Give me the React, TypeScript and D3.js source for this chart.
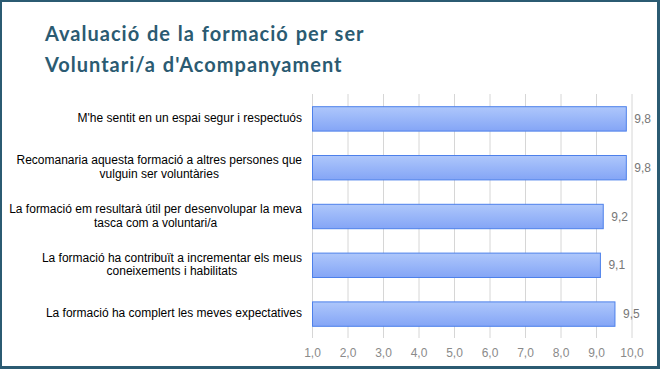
import React, { useEffect, useRef } from 'react';
import * as d3 from 'd3';

const titleLines = ['Avaluació de la formació per ser', "Voluntari/a d'Acompanyament"];

const categories = [
  ["M'he sentit en un espai segur i respectuós"],
  ['Recomanaria aquesta formació a altres persones que', 'vulguin ser voluntàries'],
  ['La formació em resultarà útil per desenvolupar la meva', 'tasca com a voluntari/a'],
  ['La formació ha contribuït a incrementar els meus', 'coneixements i habilitats'],
  ['La formació ha complert les meves expectatives'],
];

const values = [9.84, 9.84, 9.19, 9.11, 9.52];

const ticks = [1, 2, 3, 4, 5, 6, 7, 8, 9, 10];

const W = 660;
const H = 369;

const App = () => {
  const ref = useRef<SVGSVGElement>(null);

  useEffect(() => {
    document.body.style.margin = '0';
    const svg = d3.select(ref.current);
    svg.selectAll('*').remove();

    const margin = { left: 312.5, right: 28, top: 94, bottom: 31 };
    const fmt = (v: number) => d3.format('.1f')(v).replace('.', ',');

    const x = d3.scaleLinear().domain([1, 10]).range([margin.left, W - margin.right]);
    const y = d3.scaleBand<number>()
      .domain(d3.range(categories.length))
      .range([margin.top, H - margin.bottom])
      .paddingInner(0.5)
      .paddingOuter(0.25);

    svg.append('rect')
      .attr('x', 0).attr('y', 0).attr('width', W).attr('height', H)
      .attr('fill', '#2b5b72');
    svg.append('rect')
      .attr('x', 2).attr('y', 2).attr('width', W - 5).attr('height', H - 5)
      .attr('fill', '#fff');

    const grad = svg.append('defs').append('linearGradient')
      .attr('id', 'barGrad').attr('x1', 0).attr('y1', 0).attr('x2', 0).attr('y2', 1);
    grad.append('stop').attr('offset', '0%').attr('stop-color', '#aec7fb');
    grad.append('stop').attr('offset', '100%').attr('stop-color', '#84a5f6');

    // title
    svg.append('g')
      .selectAll('text')
      .data(titleLines)
      .enter()
      .append('text')
      .attr('x', 45)
      .attr('y', (d, i) => 41 + i * 31)
      .attr('font-family', 'Lato, sans-serif')
      .attr('font-weight', 'bold')
      .attr('font-size', 20)
      .attr('letter-spacing', 1)
      .attr('word-spacing', 1)
      .attr('fill', '#2b5b72')
      .text(d => d);

    // grid
    svg.append('g')
      .selectAll('line')
      .data(ticks)
      .enter()
      .append('line')
      .attr('x1', d => x(d)).attr('x2', d => x(d))
      .attr('y1', margin.top).attr('y2', H - margin.bottom)
      .attr('stroke', '#d6d6d6')
      .attr('stroke-width', 1);

    // tick labels
    svg.append('g')
      .selectAll('text')
      .data(ticks)
      .enter()
      .append('text')
      .attr('x', d => x(d))
      .attr('y', 357)
      .attr('text-anchor', 'middle')
      .attr('font-family', 'Arial, Liberation Sans, sans-serif')
      .attr('font-size', 12)
      .attr('fill', '#8a8a8a')
      .text(d => fmt(d));

    // bars
    svg.append('g')
      .selectAll('rect')
      .data(values)
      .enter()
      .append('rect')
      .attr('x', x(1))
      .attr('y', (d, i) => (y(i) as number) + 0.5)
      .attr('width', d => x(d) - x(1))
      .attr('height', y.bandwidth())
      .attr('fill', 'url(#barGrad)')
      .attr('stroke', '#4d80ea')
      .attr('stroke-width', 1);

    // value labels
    svg.append('g')
      .selectAll('text')
      .data(values)
      .enter()
      .append('text')
      .attr('x', d => x(d) + 8)
      .attr('y', (d, i) => (y(i) as number) + y.bandwidth() / 2 + 4.5)
      .attr('font-family', 'Arial, Liberation Sans, sans-serif')
      .attr('font-size', 12)
      .attr('fill', '#777')
      .text(d => fmt(d));

    // category labels: block right-aligned, lines centred within block
    const labelRight = 302;
    const lineH = 13.5;
    categories.forEach((lines, i) => {
      const g = svg.append('g');
      const texts = g.selectAll('text')
        .data(lines)
        .enter()
        .append('text')
        .attr('font-family', 'Arial, Liberation Sans, sans-serif')
        .attr('font-size', 12)
        .attr('fill', '#000')
        .attr('text-anchor', 'middle')
        .text(d => d);
      let maxW = 0;
      texts.each(function () {
        maxW = Math.max(maxW, (this as SVGTextElement).getComputedTextLength());
      });
      const cy = (y(i) as number) + y.bandwidth() / 2;
      const top = cy - (lines.length * lineH) / 2;
      texts
        .attr('x', labelRight - maxW / 2)
        .attr('y', (d, j) => top + j * lineH + 10.5);
    });
  }, []);

  return <svg ref={ref} width={W} height={H} style={{ display: 'block' }} />;
};

export default App;
